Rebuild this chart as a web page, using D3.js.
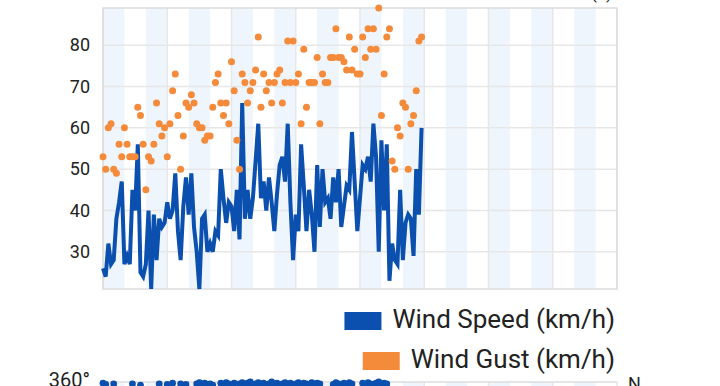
<!DOCTYPE html>
<html>
<head>
<meta charset="utf-8">
<script src="https://cdn.jsdelivr.net/npm/d3@7"></script>
<style>
  html, body { margin: 0; padding: 0; background: #fff; }
  svg { display: block; font-family: Roboto, "Noto Sans", sans-serif; }
</style>
</head>
<body>
<div id="chart"></div>
<script>
(function() {
  'use strict';

  var
    DAYS = 8,
    HOURS_PER_DAY = 24,
    BAND_HOURS = 8,

    yTicks = [30, 40, 50, 60, 70, 80],

    seriesNames = ['Wind Speed (km/h)', 'Wind Gust (km/h)'],

    // km/h, one value per hour
    windSpeed = [
      26, 24, 32, 27, 28, 38, 42, 47, 27, 29,
      27, 45, 40, 56, 25, 24, 27, 40, 21, 39,
      28, 38, 36, 37, 42, 38, 40, 49, 35, 28,
      41, 48, 39, 49, 36, 30, 21, 38, 39, 30,
      32, 30, 35, 34, 50, 43, 37, 42, 41, 35,
      45, 33, 66, 38, 45, 38, 43, 52, 61, 43,
      47, 40, 48, 42, 35, 44, 51, 53, 47, 61,
      42, 28, 39, 35, 56, 46, 35, 45, 39, 30,
      51, 36, 50, 42, 43, 38, 48, 42, 50, 36,
      41, 46, 45, 59, 47, 35, 43, 51, 50, 53,
      47, 61, 53, 30, 57, 40, 56, 23, 32, 28,
      27, 45, 28, 37, 39, 38, 29, 50, 39, 60
    ],

    windGust = [
      53, 50, 60, 61, 50, 49, 56, 53, 60, 56,
      53, 53, 53, 65, 63, 56, 45, 53, 52, 56,
      66, 61, 58, 60, 53, 61, 69, 73, 63, 50,
      58, 66, 65, 68, 66, 61, 60, 60, 57, 58,
      58, 65, 71, 73, 66, 63, 66, 61, 76, 69,
      57, 50, 73, 71, 66, 69, 71, 74, 82, 65,
      73, 69, 71, 66, 71, 73, 74, 66, 71, 81,
      71, 81, 71, 73, 61, 79, 65, 71, 71, 71,
      77, 61, 73, 71, 71, 77, 77, 84, 77, 77,
      76, 74, 82, 74, 79, 73, 73, 82, 77, 84,
      79, 84, 79, 89, 63, 73, 82, 84, 52, 50,
      60, 58, 66, 65, 50, 61, 63, 69, 81, 82
    ],

    // degrees, lower panel (only the top of it is in view)
    windDirection = [
      358, 356, 320, 318, 357, 322, 315, 310, 318, 325,
      330, 357, 328, 330, 355, 326, 320, 318, 324, 330,
      332, 357, 335, 330, 356, 334, 358, 336, 332, 357,
      338, 356, 335, 330, 336, 357, 359, 355, 358, 356,
      357, 355, 338, 340, 358, 356, 359, 357, 354, 358,
      340, 357, 359, 356, 358, 360, 355, 357, 359, 356,
      358, 355, 357, 360, 356, 358, 354, 357, 359, 356,
      358, 355, 357, 359, 356, 358, 357, 355, 359, 356,
      358, 357, 342, 338, 336, 340, 356, 359, 357, 355,
      358, 356, 359, 357, 341, 338, 340, 358, 356, 359,
      357, 355, 358, 360, 356, 358, 357, 330, 325, 320,
      318, 322, 326, 330, 328, 325, 320, 318, 322, 325
    ],

    COLORS = {
      speed: '#0b50ae',
      gust: '#f48b3b',
      band: '#eef5fc',
      grid: '#e7e7e7',
      border: '#dcdcdc',
      text: '#222'
    },

    WIDTH = 720,
    HEIGHT = 386,
    plot = {left: 103, right: 617, top: 8, bottom: 289},
    plot2 = {top: 382, bottom: 600};

  var
    hours = d3.range(windSpeed.length),
    totalHours = DAYS * HOURS_PER_DAY,
    svg, x, y, y2, bands, dayLines;

  svg = d3.select('#chart')
    .append('svg')
    .attr('width', WIDTH)
    .attr('height', HEIGHT);

  x = d3.scaleLinear()
    .domain([0, totalHours])
    .range([plot.left, plot.right]);

  y = d3.scaleLinear()
    .domain(d3.extent(windSpeed.concat(windGust)))
    .range([plot.bottom, plot.top]);

  y2 = d3.scaleLinear()
    .domain([0, 360])
    .range([plot2.bottom, plot2.top]);

  bands = d3.range(0, totalHours, BAND_HOURS).filter(function(h, i) {
    return i % 2 === 0;
  });
  dayLines = d3.range(0, totalHours + 1, HOURS_PER_DAY);

  function drawBackground(g, top, bottom) {
    g.selectAll('rect.band')
      .data(bands)
      .enter()
      .append('rect')
      .attr('class', 'band')
      .attr('x', function(h) { return x(h); })
      .attr('y', top)
      .attr('width', function(h) { return x(h + BAND_HOURS) - x(h); })
      .attr('height', bottom - top)
      .attr('fill', COLORS.band);

    g.selectAll('line.day')
      .data(dayLines)
      .enter()
      .append('line')
      .attr('class', 'day')
      .attr('x1', function(h) { return x(h); })
      .attr('x2', function(h) { return x(h); })
      .attr('y1', top)
      .attr('y2', bottom)
      .attr('stroke', COLORS.grid)
      .attr('stroke-width', 1.5);
  }

  // upper panel: speed + gust
  var top = svg.append('g');

  drawBackground(top, plot.top, plot.bottom);

  top.selectAll('line.hgrid')
    .data(yTicks)
    .enter()
    .append('line')
    .attr('class', 'hgrid')
    .attr('x1', plot.left)
    .attr('x2', plot.right)
    .attr('y1', function(d) { return y(d); })
    .attr('y2', function(d) { return y(d); })
    .attr('stroke', COLORS.grid)
    .attr('stroke-width', 1.5);

  top.append('rect')
    .attr('x', plot.left)
    .attr('y', plot.top)
    .attr('width', plot.right - plot.left)
    .attr('height', plot.bottom - plot.top)
    .attr('fill', 'none')
    .attr('stroke', COLORS.border)
    .attr('stroke-width', 1.5);

  var yAxis = top.append('g')
    .attr('transform', 'translate(' + plot.left + ',0)')
    .call(d3.axisLeft(y).tickValues(yTicks).tickSize(0).tickPadding(13));

  yAxis.select('.domain').remove();
  yAxis.selectAll('text')
    .attr('font-size', 18)
    .attr('font-family', 'Roboto, sans-serif')
    .attr('fill', COLORS.text);

  top.append('path')
    .datum(windSpeed)
    .attr('fill', 'none')
    .attr('stroke', COLORS.speed)
    .attr('stroke-width', 4)
    .attr('d', d3.line()
      .x(function(d, i) { return x(hours[i]); })
      .y(function(d) { return y(d); }));

  top.selectAll('circle.gust')
    .data(windGust)
    .enter()
    .append('circle')
    .attr('class', 'gust')
    .attr('cx', function(d, i) { return x(hours[i]); })
    .attr('cy', function(d) { return y(d); })
    .attr('r', 3.5)
    .attr('fill', COLORS.gust);

  // unit label of the panel above, mostly scrolled out of view
  svg.append('text')
    .attr('x', 612)
    .attr('y', -1)
    .attr('text-anchor', 'end')
    .attr('font-size', 17)
    .attr('fill', COLORS.text)
    .text('(h)');

  // legend
  var legend = svg.append('g'),
    legendColors = [COLORS.speed, COLORS.gust],
    legendBase = [328, 368];

  seriesNames.forEach(function(name, i) {
    var t = legend.append('text')
      .attr('x', 615)
      .attr('y', legendBase[i])
      .attr('text-anchor', 'end')
      .attr('font-size', 26)
      .attr('fill', COLORS.text)
      .text(name);

    var w = t.node().getComputedTextLength();

    legend.append('rect')
      .attr('x', 615 - w - 11 - 37)
      .attr('y', legendBase[i] - 16)
      .attr('width', 37)
      .attr('height', 18)
      .attr('fill', legendColors[i]);
  });

  // lower panel: wind direction
  var bottom = svg.append('g');

  drawBackground(bottom, plot2.top, plot2.bottom);

  bottom.append('line')
    .attr('x1', plot.left)
    .attr('x2', plot.right)
    .attr('y1', plot2.top)
    .attr('y2', plot2.top)
    .attr('stroke', COLORS.border)
    .attr('stroke-width', 1.5);

  bottom.selectAll('circle.dir')
    .data(windDirection)
    .enter()
    .append('circle')
    .attr('class', 'dir')
    .attr('cx', function(d, i) { return x(hours[i]); })
    .attr('cy', function(d) { return y2(d); })
    .attr('r', 3.4)
    .attr('fill', COLORS.speed);

  bottom.append('text')
    .attr('x', 90)
    .attr('y', y2(360) + 5)
    .attr('text-anchor', 'end')
    .attr('font-size', 20)
    .attr('fill', COLORS.text)
    .text('360°');

  bottom.append('text')
    .attr('x', 628)
    .attr('y', y2(360) + 8)
    .attr('font-size', 18)
    .attr('fill', COLORS.text)
    .text('N');
})();
</script>
</body>
</html>
